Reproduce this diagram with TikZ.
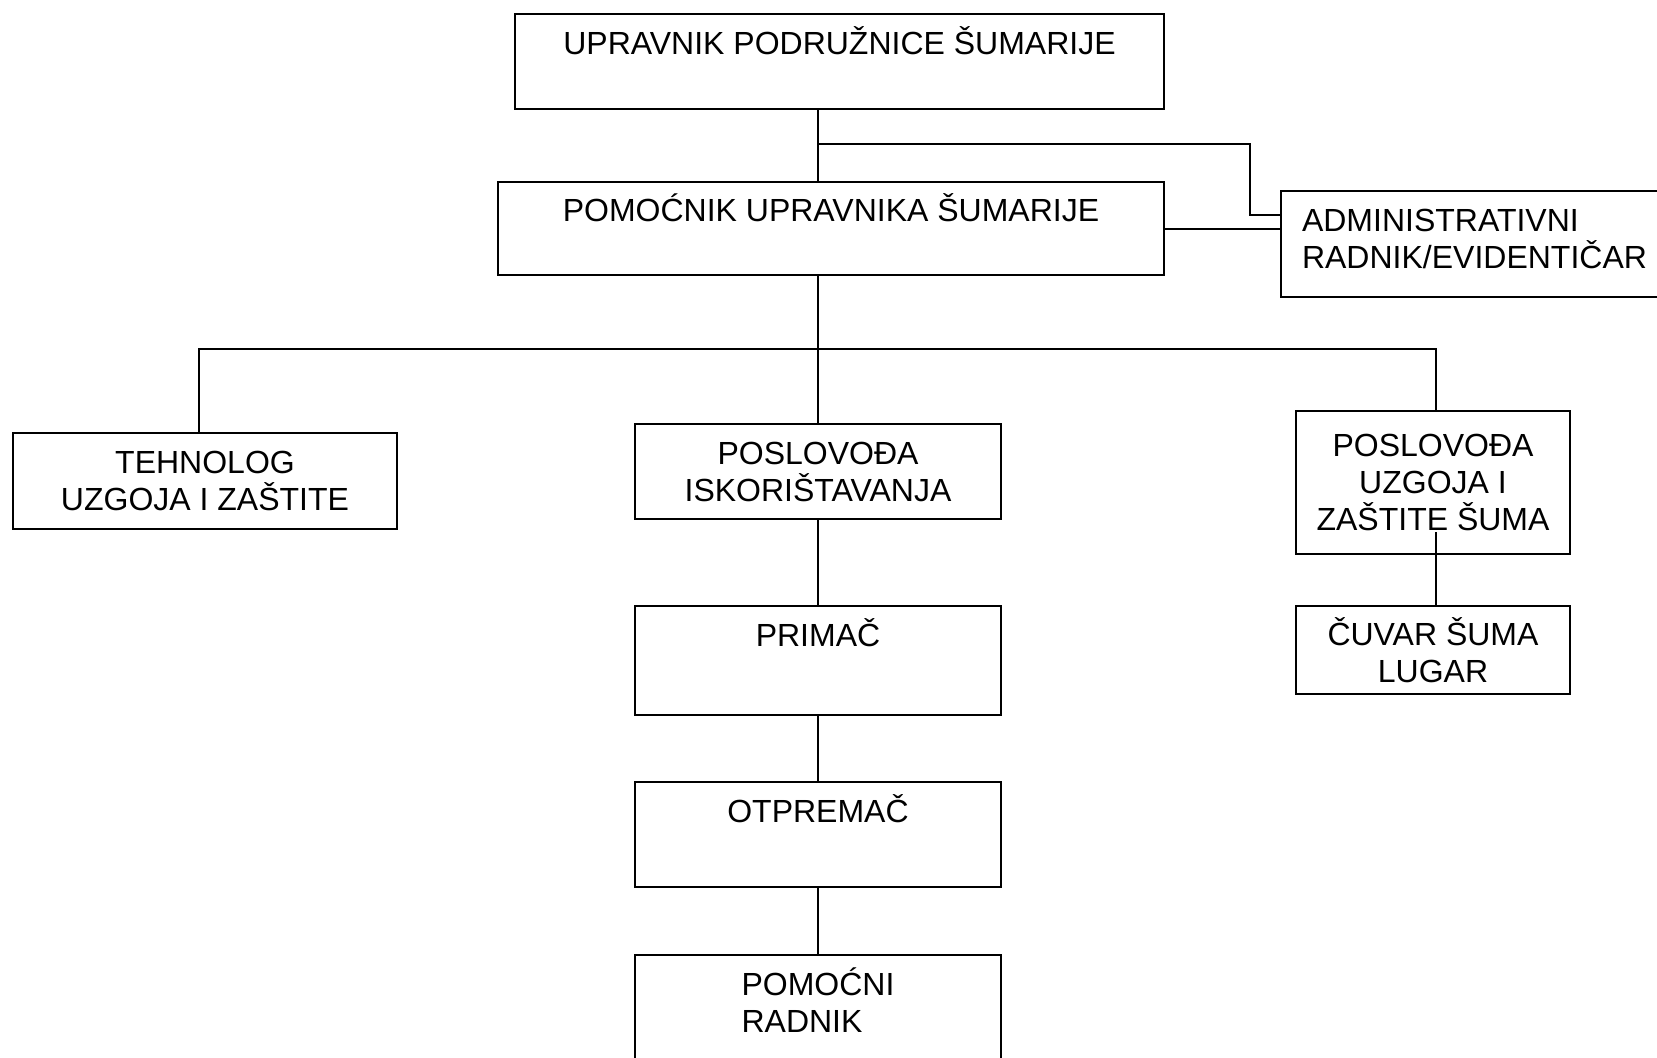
\documentclass[tikz,border=0pt]{standalone}
\usepackage{fontspec}
\setmainfont{Liberation Sans}
\usetikzlibrary{positioning}

\begin{document}
\begin{tikzpicture}
		\tikzstyle{orgblock} = [rectangle, draw, line width = 1pt, align = center, inner sep = 0pt, outer sep = 0pt, font = \fontsize{16pt}{18.5pt}\selectfont];
		\tikzstyle{midblock} = [orgblock, minimum width = 183pt];
		\tikzstyle{orgpath} = [draw, line width = 1pt];
		\useasboundingbox (0,0) rectangle (828.5pt,-528.5pt);
		\node (upr) at (419.75pt,-7pt) [orgblock, anchor = north, minimum width = 324.5pt, text height = 20.25pt, text depth = 27.25pt] {UPRAVNIK PODRUŽNICE ŠUMARIJE};
		\node (pom) [orgblock, below=36.5pt of upr, xshift=-4.25pt, minimum width = 333pt, text height = 19.75pt, text depth = 26.75pt] {POMOĆNIK UPRAVNIKA ŠUMARIJE};
		\node (adm) [orgblock, right=58.5pt of pom, yshift=-7.75pt, align = left, inner xsep = 10.5pt, text height = 38.75pt, text depth = 14.25pt] {ADMINISTRATIVNI\\RADNIK/EVIDENTIČAR};
		\node (psi) [midblock, below=74.5pt of pom, xshift=-6.5pt, minimum height = 47.5pt] {POSLOVOĐA\\ISKORIŠTAVANJA};
		\node (teh) [orgblock, left=119pt of psi, yshift=-4.75pt, minimum width = 192pt, minimum height = 48pt] {TEHNOLOG\\UZGOJA I ZAŠTITE};
		\node (psu) [orgblock, right=147.5pt of psi, yshift=-5.5pt, minimum width = 137pt, minimum height = 71.5pt] {POSLOVOĐA\\UZGOJA I\\ZAŠTITE ŠUMA};
		\node (cuv) [orgblock, below=26pt of psu, minimum width = 137pt, minimum height = 44pt] {ČUVAR ŠUMA\\LUGAR};
		\node (pri) [midblock, below=43.5pt of psi, text height = 20.25pt, text depth = 34.25pt] {PRIMAČ};
		\node (otp) [midblock, below=33.5pt of pri, text height = 20.25pt, text depth = 32.25pt] {OTPREMAČ};
		\node (pmr) [midblock, below=34pt of otp, align = left, text height = 38.75pt, text depth = 21.25pt] {POMOĆNI\\RADNIK};
		\path [orgpath] (upr.south -| psi) -- coordinate[pos=0.48] (fork) (pom.north -| psi);
		\path [orgpath] (fork) -| ([xshift=-15.5pt, yshift=14.5pt]adm.west) -- ([yshift=14.5pt]adm.west);
		\path [orgpath] (pom.east) -- (pom.east -| adm.west);
		\path [orgpath] (pom.south -| psi) -- coordinate[pos=0.497] (bus) (psi.north);
		\path [orgpath] (bus) -| ([xshift=-3pt]teh.north);
		\path [orgpath] (bus) -| ([xshift=1.5pt]psu.north);
		\path [orgpath] ([xshift=1.5pt, yshift=11pt]psu.south) -- ([xshift=1.5pt]cuv.north);
		\path [orgpath] (psi) -- (pri) -- (otp) -- (pmr);
	\end{tikzpicture}
\end{document}
